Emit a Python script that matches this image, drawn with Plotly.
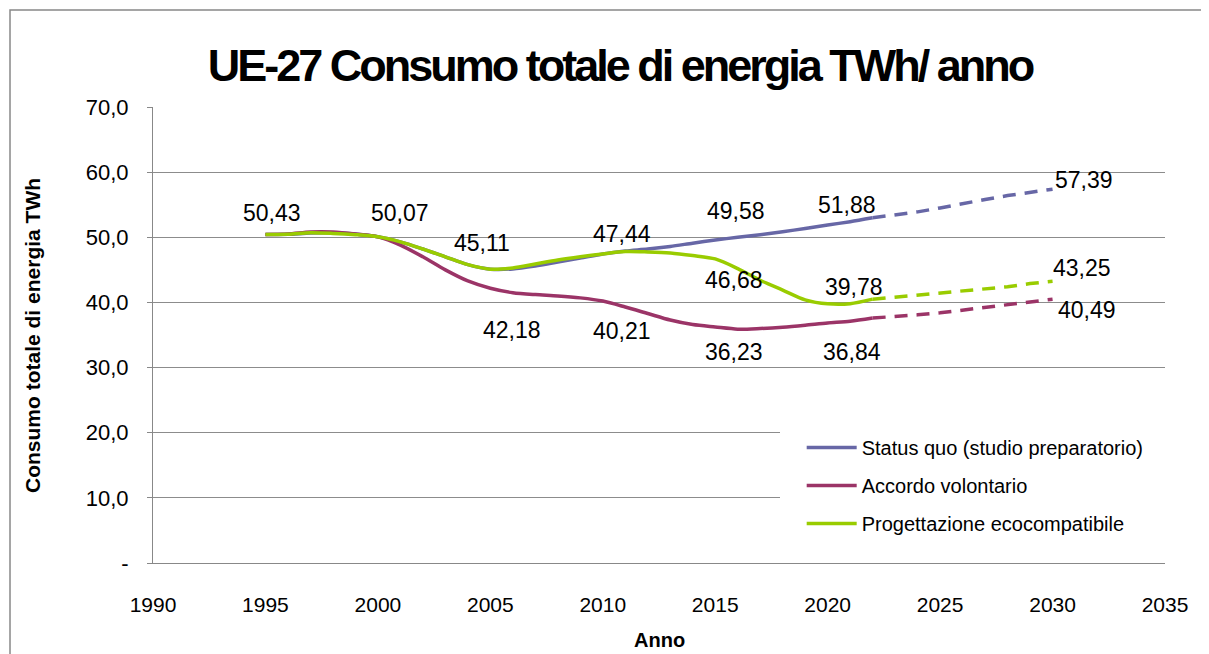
import plotly.graph_objects as go

# ---------------- data ----------------
years_hist = list(range(1995, 2023))
status_quo = [50.43, 50.45, 50.65, 50.7, 50.5, 50.07, 49.3, 48.2, 47.0, 45.8, 45.11,
              45.15, 45.6, 46.2, 46.8, 47.44, 47.9, 48.2, 48.6, 49.1, 49.58,
              50.0, 50.4, 50.85, 51.35, 51.88, 52.4, 53.0]
accordo = [50.43, 50.5, 50.8, 50.8, 50.5, 50.07, 48.8, 47.0, 45.0, 43.3, 42.18,
           41.5, 41.2, 41.0, 40.7, 40.21, 39.3, 38.3, 37.3, 36.6, 36.23,
           35.9, 36.0, 36.2, 36.5, 36.84, 37.1, 37.6]
ecodesign = [50.43, 50.45, 50.7, 50.6, 50.4, 50.07, 49.3, 48.2, 47.0, 45.8, 45.11,
             45.3, 45.9, 46.5, 47.0, 47.44, 47.8, 47.75, 47.6, 47.2, 46.68,
             45.2, 43.4, 41.9, 40.4, 39.78, 39.8, 40.5]

years_proj = list(range(2022, 2031))
status_quo_proj = [53.0, 53.4, 53.9, 54.5, 55.2, 55.8, 56.4, 56.9, 57.39]
accordo_proj = [37.6, 37.8, 38.1, 38.4, 38.8, 39.3, 39.7, 40.1, 40.49]
ecodesign_proj = [40.5, 40.8, 41.1, 41.4, 41.7, 42.0, 42.4, 42.9, 43.25]

series_names = ["Status quo (studio preparatorio)", "Accordo volontario",
                "Progettazione ecocompatibile"]

label_years_sq = [1995, 2000, 2005, 2010, 2015, 2020, 2030]
label_vals_sq = [50.43, 50.07, 45.11, 47.44, 49.58, 51.88, 57.39]
label_years_av = [2005, 2010, 2015, 2020, 2030]
label_vals_av = [42.18, 40.21, 36.23, 36.84, 40.49]
label_years_pe = [2015, 2020, 2030]
label_vals_pe = [46.68, 39.78, 43.25]

y_tickvals = [0, 10, 20, 30, 40, 50, 60, 70]
y_ticktext = ["-", "10,0", "20,0", "30,0", "40,0", "50,0", "60,0", "70,0"]
x_tickvals = [1990, 1995, 2000, 2005, 2010, 2015, 2020, 2025, 2030, 2035]

# ---------------- style ----------------
C_SQ = "#6767A6"
C_AV = "#9B3467"
C_PE = "#99CC00"
FONT = "Liberation Sans, Arial, sans-serif"

# pixel offsets for labels (style only)
off_sq = [(7, -21), (22, -24), (-8, -26), (19, -20), (21, -29), (19, -20), (31, -9)]
off_av = [(22, 42), (19, 30), (19, 25), (24, 29), (34, 11)]
off_pe = [(19, 21), (26, -17), (29, -13)]

fig = go.Figure()

for vals, pvals, col in [(status_quo, status_quo_proj, C_SQ),
                         (accordo, accordo_proj, C_AV),
                         (ecodesign, ecodesign_proj, C_PE)]:
    fig.add_trace(go.Scatter(x=years_proj, y=pvals, mode="lines", showlegend=False,
                             line=dict(color=col, width=3.5, dash="13px,9px"),
                             hoverinfo="skip"))
for name, vals, col in [(series_names[0], status_quo, C_SQ),
                        (series_names[1], accordo, C_AV),
                        (series_names[2], ecodesign, C_PE)]:
    fig.add_trace(go.Scatter(x=years_hist, y=vals, mode="lines", name=name,
                             legendgroup=name,
                             line=dict(color=col, width=3.5, shape="spline", smoothing=0.8)))

annotations = []
def fmt(v):
    return f"{v:.2f}".replace(".", ",")
for yrs, vals, offs in [(label_years_sq, label_vals_sq, off_sq),
                        (label_years_av, label_vals_av, off_av),
                        (label_years_pe, label_vals_pe, off_pe)]:
    for yr, v, (dx, dy) in zip(yrs, vals, offs):
        annotations.append(dict(x=yr, y=v, xref="x", yref="y", text=fmt(v),
                                showarrow=False, xshift=dx, yshift=-dy,
                                xanchor="center", yanchor="middle",
                                font=dict(family=FONT, size=23, color="black")))

annotations.append(dict(text="<b>Consumo totale di energia TWh</b>", textangle=-90,
                        x=-0.1196, y=0.5, xref="paper", yref="paper", showarrow=False,
                        xanchor="center", yanchor="middle",
                        font=dict(family=FONT, size=21, color="black")))
annotations.append(dict(text="<b>Anno</b>", x=0.5, y=-0.169, xref="paper", yref="paper",
                        showarrow=False, xanchor="center", yanchor="middle",
                        font=dict(family=FONT, size=20, color="black")))

fig.update_layout(
    width=1201, height=646,
    margin=dict(l=145, r=44, t=99, b=91),
    paper_bgcolor="white", plot_bgcolor="white",
    title=dict(text='<b><span style="letter-spacing:-3px">UE-27 Consumo totale di energia TWh/ anno</span></b>',
               x=(620 - 8) / 1201, xref="container", xanchor="center",
               y=1 - (65 - 8) / 646, yref="container", yanchor="middle",
               font=dict(family=FONT, size=45, color="black")),
    xaxis=dict(range=[1990, 2035], tickvals=x_tickvals, showgrid=False,
               showline=True, linecolor="#888888", linewidth=1, zeroline=False,
               ticks="", ticklabelstandoff=23,
               tickfont=dict(family=FONT, size=21, color="black")),
    yaxis=dict(range=[0, 70], tickvals=y_tickvals, ticktext=y_ticktext,
               showgrid=True, gridcolor="#8c8c8c", gridwidth=1, zeroline=False,
               showline=True, linecolor="#888888", linewidth=1,
               ticks="outside", ticklen=5, tickcolor="#888888",
               ticklabelstandoff=14,
               tickfont=dict(family=FONT, size=22, color="black")),
    legend=dict(x=0.641, y=0.296, xanchor="left", yanchor="top",
                bgcolor="rgba(255,255,255,0)", borderwidth=0, tracegroupgap=9,
                font=dict(family=FONT, size=20, color="black"),
                itemwidth=50),
    annotations=annotations,
    shapes=[dict(type="rect", xref="paper", yref="paper",
                 x0=-0.1413, x1=1.06, y0=-0.25, y1=1.2127,
                 line=dict(color="#888888", width=1.5), fillcolor="rgba(0,0,0,0)",
                 layer="below"),
            dict(type="rect", xref="paper", yref="paper",
                 x0=(780 - 153) / 1012, x1=1.0, y0=(563 - 545) / 456, y1=(563 - 422) / 456,
                 line=dict(width=0), fillcolor="white", layer="above")],
)

fig.write_html("out.html")
